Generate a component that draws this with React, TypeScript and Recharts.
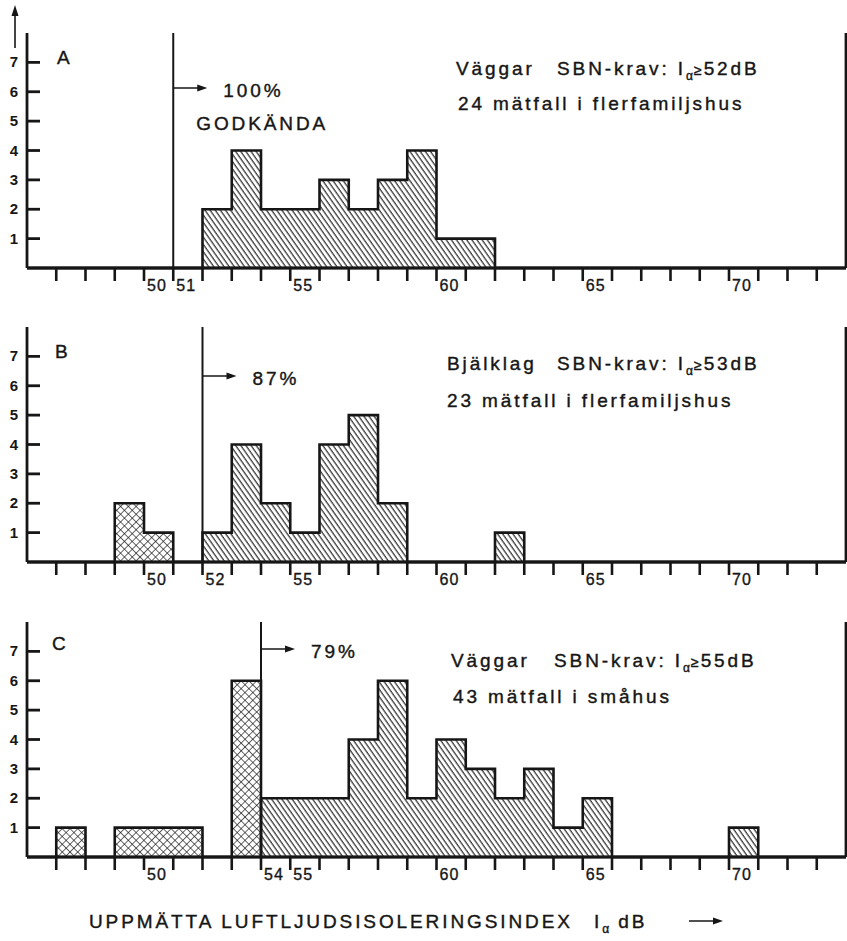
import { Area, ComposedChart, ReferenceLine, XAxis, YAxis } from 'recharts'

// dB bins (each bin spans [b, b+1])
const bins = [46, 47, 48, 49, 50, 51, 52, 53, 54, 55, 56, 57, 58, 59, 60, 61, 62, 63, 64, 65, 66, 67, 68, 69, 70, 71, 72, 73]
const binEnd = 74
const xTicks = [47, 48, 49, 50, 51, 52, 53, 54, 55, 56, 57, 58, 59, 60, 61, 62, 63, 64, 65, 66, 67, 68, 69, 70, 71, 72, 73]
const yTicks = [1, 2, 3, 4, 5, 6, 7]

// A: väggar, flerfamiljshus (krav 52 dB)
const wallsFlatsFail = [0, 0, 0, 0, 0, 0, 0, 0, 0, 0, 0, 0, 0, 0, 0, 0, 0, 0, 0, 0, 0, 0, 0, 0, 0, 0, 0, 0]
const wallsFlatsPass = [0, 0, 0, 0, 0, 0, 2, 4, 2, 2, 3, 2, 3, 4, 1, 1, 0, 0, 0, 0, 0, 0, 0, 0, 0, 0, 0, 0]
const wallsFlatsLabels = [50, 51, 55, 60, 65, 70]

// B: bjälklag, flerfamiljshus (krav 53 dB)
const floorsFlatsFail = [0, 0, 0, 2, 1, 0, 0, 0, 0, 0, 0, 0, 0, 0, 0, 0, 0, 0, 0, 0, 0, 0, 0, 0, 0, 0, 0, 0]
const floorsFlatsPass = [0, 0, 0, 0, 0, 0, 1, 4, 2, 1, 4, 5, 2, 0, 0, 0, 1, 0, 0, 0, 0, 0, 0, 0, 0, 0, 0, 0]
const floorsFlatsLabels = [50, 52, 55, 60, 65, 70]

// C: väggar, småhus (krav 55 dB)
const wallsHousesFail = [0, 1, 0, 1, 1, 1, 0, 6, 0, 0, 0, 0, 0, 0, 0, 0, 0, 0, 0, 0, 0, 0, 0, 0, 0, 0, 0, 0]
const wallsHousesPass = [0, 0, 0, 0, 0, 0, 0, 0, 2, 2, 2, 4, 6, 2, 4, 3, 2, 3, 1, 2, 0, 0, 0, 0, 1, 0, 0, 0]
const wallsHousesLabels = [50, 54, 55, 60, 65, 70]

const ink = '#161616'
const font = '"Liberation Sans", Arial, sans-serif'
const txt = { fontSize: 19, fill: ink, fontFamily: font, letterSpacing: 2.9, stroke: ink, strokeWidth: 0.4 }

function toRows(fail: number[], pass: number[]) {
  const rows = bins.map((b, i) => ({ db: b, fail: fail[i], pass: pass[i] }))
  rows.push({ db: binEnd, fail: 0, pass: 0 })
  return rows
}

function makeXTick(labels: number[]) {
  return (props: any) => {
    const { x, y, payload } = props
    return (
      <g>
        <line x1={x} y1={y} x2={x} y2={y + 13} stroke={ink} strokeWidth={2.6} />
        {labels.includes(payload.value) && (
          <text x={x + 3} y={y + 23} fontSize={16} fill={ink} stroke={ink} strokeWidth={0.35} fontFamily={font} letterSpacing={1.2}>
            {payload.value}
          </text>
        )}
      </g>
    )
  }
}

function LeftTick(props: any) {
  const { x, y, payload } = props
  return (
    <g>
      <line x1={x} y1={y} x2={x + 13} y2={y} stroke={ink} strokeWidth={2.8} />
      <text x={x - 9} y={y + 5} fontSize={15} fontWeight="bold" fill={ink} fontFamily={font} textAnchor="end">
        {payload.value}
      </text>
    </g>
  )
}

function RightTick(props: any) {
  const { x, y } = props
  return <line x1={x - 14} y1={y} x2={x} y2={y} stroke={ink} strokeWidth={2.8} />
}

type PanelProps = {
  id: string
  top: number
  fail: number[]
  pass: number[]
  labels: number[]
  limit: number
  percent: string
  arrowDy: number
  approved?: boolean
}

function Panel({ id, top, fail, pass, labels, limit, percent, arrowDy, approved }: PanelProps) {
  const data = toRows(fail, pass)
  const limitLabel = (p: any) => {
    const vb = p.viewBox || {}
    const x0 = vb.x
    const y0 = vb.y + arrowDy
    return (
      <g>
        <line x1={x0} y1={y0} x2={x0 + 26} y2={y0} stroke={ink} strokeWidth={1.5} />
        <path d={`M${x0 + 34},${y0} L${x0 + 24},${y0 - 3.5} L${x0 + 24},${y0 + 3.5} Z`} fill={ink} />
        <text x={x0 + 50} y={y0 + 9} {...txt}>
          {percent}
        </text>
        {approved && (
          <text x={x0 + 23} y={y0 + 42} {...txt}>
            GODKÄNDA
          </text>
        )}
      </g>
    )
  }
  return (
    <div style={{ position: 'absolute', left: 0, top }}>
      <ComposedChart width={847} height={275} data={data} margin={{ top: 4, right: 0, bottom: 0, left: 0 }}>
        <defs>
          <pattern id={`hatch-${id}`} patternUnits="userSpaceOnUse" width={4.2} height={10} patternTransform="rotate(-35)">
            <line x1={1} y1={0} x2={1} y2={10} stroke={ink} strokeWidth={1.1} />
          </pattern>
          <pattern id={`cross-${id}`} patternUnits="userSpaceOnUse" width={5.5} height={5.5} patternTransform="rotate(45)">
            <line x1={0} y1={0} x2={0} y2={5.5} stroke={ink} strokeWidth={1.3} />
            <line x1={0} y1={0} x2={5.5} y2={0} stroke={ink} strokeWidth={1.3} />
          </pattern>
        </defs>
        <XAxis
          dataKey="db"
          type="number"
          domain={[46, 74]}
          ticks={xTicks}
          interval={0}
          height={36}
          tickLine={false}
          tickSize={0}
          tickMargin={0}
          axisLine={{ stroke: ink, strokeWidth: 2.8 }}
          tick={makeXTick(labels)}
        />
        <YAxis
          domain={[0, 8]}
          ticks={yTicks}
          width={27}
          tickLine={false}
          tickSize={0}
          tickMargin={0}
          axisLine={{ stroke: ink, strokeWidth: 2.8 }}
          tick={LeftTick}
        />
        <YAxis
          yAxisId="r"
          orientation="right"
          domain={[0, 8]}
          ticks={yTicks}
          width={1}
          tickLine={false}
          tickSize={0}
          tickMargin={0}
          axisLine={{ stroke: ink, strokeWidth: 2.8 }}
          tick={RightTick}
        />
        <Area
          type="stepAfter"
          dataKey="fail"
          stroke={ink}
          strokeWidth={2.6}
          fill={`url(#cross-${id})`}
          fillOpacity={1}
          dot={false}
          activeDot={false}
          isAnimationActive={false}
        />
        <Area
          type="stepAfter"
          dataKey="pass"
          stroke={ink}
          strokeWidth={2.6}
          fill={`url(#hatch-${id})`}
          fillOpacity={1}
          dot={false}
          activeDot={false}
          isAnimationActive={false}
        />
        <ReferenceLine y={8} yAxisId="r" stroke={ink} strokeWidth={2.8} />
        <ReferenceLine x={limit} stroke={ink} strokeWidth={2} label={limitLabel} />
      </ComposedChart>
    </div>
  )
}

function Req({ x, sbnX, y, word, value }: { x: number; sbnX: number; y: number; word: string; value: string }) {
  return (
    <g>
      <text x={x} y={y} {...txt}>{word}</text>
      <text x={sbnX} y={y} {...txt}>
        SBN-krav: I
        <tspan dy={5} fontSize={12} letterSpacing={1}>α</tspan>
        <tspan dy={-5} fontSize={14} letterSpacing={2}>≥</tspan>
        <tspan>{value}</tspan>
      </text>
    </g>
  )
}

function Notes() {
  return (
    <svg width={847} height={941} style={{ position: 'absolute', left: 0, top: 0, pointerEvents: 'none' }}>
      <line x1={15} y1={48} x2={15} y2={14} stroke={ink} strokeWidth={1.6} />
      <path d="M15,5 L11.5,16 L18.5,16 Z" fill={ink} />

      <text x={57} y={64} {...txt}>A</text>
      <Req x={456} sbnX={557} y={75} word="Väggar" value="52dB" />
      <text x={458} y={110} {...txt}>24 mätfall i flerfamiljshus</text>

      <text x={55} y={358} {...txt}>B</text>
      <Req x={447} sbnX={557} y={370} word="Bjälklag" value="53dB" />
      <text x={447} y={407} {...txt}>23 mätfall i flerfamiljshus</text>

      <text x={52} y={650} {...txt}>C</text>
      <Req x={451} sbnX={554} y={667} word="Väggar" value="55dB" />
      <text x={453} y={703} {...txt}>43 mätfall i småhus</text>

      <text x={89} y={928} {...txt}>UPPMÄTTA LUFTLJUDSISOLERINGSINDEX</text>
      <text x={594} y={928} {...txt}>
        I
        <tspan dy={5} fontSize={12} letterSpacing={1}>α</tspan>
        <tspan dy={-5}> dB</tspan>
      </text>
      <line x1={689} y1={921} x2={714} y2={921} stroke={ink} strokeWidth={1.5} />
      <path d="M723,921 L713,917.5 L713,924.5 Z" fill={ink} />
    </svg>
  )
}

export default function App() {
  return (
    <div style={{ position: 'absolute', left: 0, top: 0, width: 847, height: 941, background: '#fff' }}>
      <Panel id="a" top={29} fail={wallsFlatsFail} pass={wallsFlatsPass} labels={wallsFlatsLabels} limit={51} percent="100%" arrowDy={55} approved />
      <Panel id="b" top={323} fail={floorsFlatsFail} pass={floorsFlatsPass} labels={floorsFlatsLabels} limit={52} percent="87%" arrowDy={49} />
      <Panel id="c" top={618} fail={wallsHousesFail} pass={wallsHousesPass} labels={wallsHousesLabels} limit={54} percent="79%" arrowDy={27} />
      <Notes />
    </div>
  )
}
